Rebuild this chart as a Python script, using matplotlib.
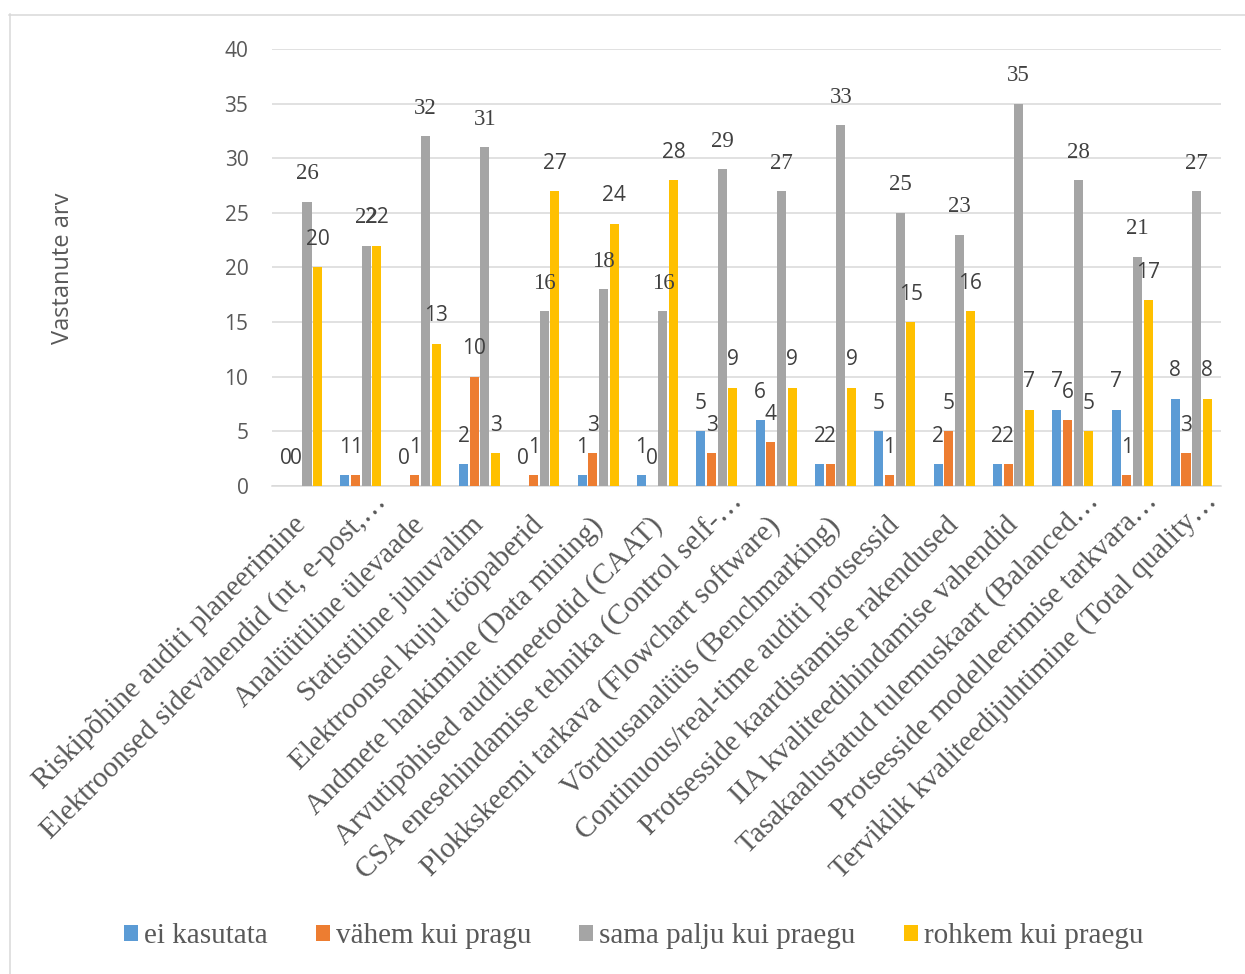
import matplotlib
matplotlib.use("Agg")
import matplotlib.pyplot as plt
from matplotlib.patches import Patch
from matplotlib.lines import Line2D
import numpy as np

categories = [
    "Riskipõhine auditi planeerimine",
    "Elektroonsed sidevahendid (nt, e-post,…",
    "Analüütiline ülevaade",
    "Statistiline juhuvalim",
    "Elektroonsel kujul tööpaberid",
    "Andmete hankimine (Data mining)",
    "Arvutipõhised auditimeetodid (CAAT)",
    "CSA enesehindamise tehnika (Control self-…",
    "Plokkskeemi tarkava (Flowchart software)",
    "Võrdlusanalüüs (Benchmarking)",
    "Continuous/real-time auditi protsessid",
    "Protsesside kaardistamise rakendused",
    "IIA kvaliteedihindamise vahendid",
    "Tasakaalustatud tulemuskaart (Balanced…",
    "Protsesside modelleerimise tarkvara…",
    "Terviklik kvaliteedijuhtimine (Total quality…",
]

series_names = ["ei kasutata", "vähem kui pragu", "sama palju kui praegu", "rohkem kui praegu"]
ei_kasutata = [0, 1, 0, 2, 0, 1, 1, 5, 6, 2, 5, 2, 2, 7, 7, 8]
vahem = [0, 1, 1, 10, 1, 3, 0, 3, 4, 2, 1, 5, 2, 6, 1, 3]
sama_palju = [26, 22, 32, 31, 16, 18, 16, 29, 27, 33, 25, 23, 35, 28, 21, 27]
rohkem = [20, 22, 13, 3, 27, 24, 28, 9, 9, 9, 15, 16, 7, 5, 17, 8]
yticks = [0, 5, 10, 15, 20, 25, 30, 35, 40]

colors = ["#5B9BD5", "#ED7D31", "#A5A5A5", "#FFC000"]
text_gray = "#595959"
label_dark = "#404040"
grid_col = "#D9D9D9"
SANS = "Open Sans"
SERIF = "Liberation Serif"

W, H = 1245, 974
fig = plt.figure(figsize=(W / 100, H / 100), dpi=100)
ax = fig.add_axes([272 / W, 1 - 486 / H, (1221 - 272) / W, (486 - 49) / H])

x = np.arange(len(categories))
step = 0.18
width = 0.152
all_series = [ei_kasutata, vahem, sama_palju, rohkem]
for k, (vals, col) in enumerate(zip(all_series, colors)):
    pos = x + (k - 1.5) * step
    ax.bar(pos, vals, width=width, color=col, zorder=3)
    fam = SERIF if k == 2 else SANS
    size = 16.5 if k == 2 else 15
    for px, v in zip(pos, vals):
        ax.annotate(str(v), xy=(px, v), xytext=(0, 28), textcoords="offset pixels",
                    ha="center", va="center", fontsize=size, family=fam,
                    color=label_dark, zorder=4)

ax.set_xlim(-0.5, len(categories) - 0.5)
ax.set_ylim(0, 40)
ax.set_yticks(yticks)
ax.set_yticklabels([str(t) for t in yticks], family=SANS, fontsize=15, color=text_gray)
ax.tick_params(axis="y", length=0, pad=17)
ax.set_xticks(x)
ax.set_xticklabels([])
ax.tick_params(axis="x", length=0)
ax.grid(axis="y", color=grid_col, linewidth=1.1, zorder=0)
for s in ["left", "right", "top"]:
    ax.spines[s].set_visible(False)
ax.spines["bottom"].set_color(grid_col)
ax.spines["bottom"].set_linewidth(1.1)

# rotated category labels under the axis
for i, name in enumerate(categories):
    dx, dy = -9, -26
    if name.endswith("…"):
        dx, dy = dx + 21, dy + 24
    ax.annotate(name, xy=(i, 0), xycoords=("data", "axes fraction"),
                xytext=(dx, dy), textcoords="offset pixels",
                rotation=45, rotation_mode="anchor", ha="right", va="top",
                fontsize=21, family=SERIF, color=text_gray)

fig.text(63 / W, 1 - 268 / H, "Vastanute arv", rotation=90, ha="center", va="center",
         family=SANS, fontsize=17, color=text_gray)

handles = [Patch(facecolor=c, edgecolor="none") for c in colors]
leg = fig.legend(handles, series_names, loc="center", bbox_to_anchor=(0.509, 1 - 936 / H),
                 ncol=4, frameon=False, handlelength=0.48, handleheight=0.48,
                 handletextpad=0.2, columnspacing=1.65,
                 prop={"family": SERIF, "size": 21})
for t in leg.get_texts():
    t.set_color(text_gray)

# chart frame
fig.add_artist(Line2D([9.5 / W, 9.5 / W], [0, 1 - 14 / H], transform=fig.transFigure,
                      color=grid_col, linewidth=1.1))
fig.add_artist(Line2D([9 / W, 1], [1 - 14.5 / H, 1 - 14.5 / H], transform=fig.transFigure,
                      color=grid_col, linewidth=1.1))

fig.savefig("out.png", dpi=100)
